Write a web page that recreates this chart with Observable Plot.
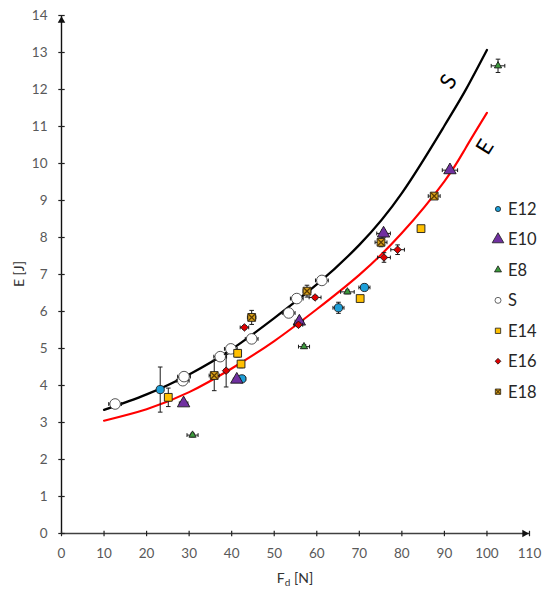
<!DOCTYPE html>
<html><head><meta charset="utf-8">
<script src="https://cdn.jsdelivr.net/npm/d3@7"></script>
<script src="https://cdn.jsdelivr.net/npm/@observablehq/plot@0.6"></script>
<style>
body{margin:0;background:#fff;}
#wrap{position:relative;width:550px;height:597px;font-family:Lato,"Open Sans",sans-serif;}
#wrap svg.overlay{position:absolute;left:0;top:0;pointer-events:none;}
</style></head><body><div id="wrap"></div>
<script>
// ---- axes ----
const xDomain = [0, 110];
const yDomain = [0, 14];
const xTicks = [0,10,20,30,40,50,60,70,80,90,100,110];
const yTicks = [0,1,2,3,4,5,6,7,8,9,10,11,12,13,14];

// ---- fitted curves ----
const curveX = [10,20,30,40,50,60,70,80,90,95,100];
const curveS = [3.34,3.76,4.30,4.98,5.82,6.73,7.80,9.20,11.02,11.99,13.07];
const curveE = [3.05,3.36,3.82,4.46,5.20,6.06,6.99,8.12,9.52,10.42,11.37];
const curveLabels = ["S","E"];
const curveLabelX = [91.0, 99.6];
const curveLabelY = [12.21, 10.44];

// ---- measured series ----
const seriesNames = ["E12","E10","E8","S","E14","E16","E18"];
const e12X = [23.2,42.4,65.1,71.2];
const e12Y = [3.89,4.18,6.10,6.65];
const e12Xe = [0.6,0.9,1.3,1.3];
const e12Ye = [0.61,0.06,0.15,0.05];

const e10X = [28.7,41.2,55.9,75.7,91.3];
const e10Y = [3.52,4.16,5.73,8.11,9.82];
const e10Xe = [1.0,0.8,1.0,1.6,1.8];
const e10Ye = [0.06,0.06,0.06,0.10,0.05];

const e8X = [30.8,57.0,67.2,102.6];
const e8Y = [2.66,5.05,6.53,12.64];
const e8Xe = [1.3,1.3,1.6,1.6];
const e8Ye = [0.05,0.05,0.05,0.18];

const sX = [12.6,28.5,28.8,37.3,39.8,44.7,53.4,55.3,61.2];
const sY = [3.50,4.13,4.24,4.78,4.99,5.26,5.96,6.35,6.84];
const sXe = [1.5,1.5,1.5,1.5,1.5,1.5,1.5,1.5,1.5];
const sYe = [0,0,0,0,0,0,0,0,0];

const e14X = [25.1,41.4,42.2,70.2,84.5];
const e14Y = [3.68,4.87,4.58,6.35,8.24];
const e14Xe = [0.7,0.5,0.5,0,0];
const e14Ye = [0.25,0.10,0.10,0,0];

const e16X = [38.7,43.0,55.7,59.6,75.8,79.0];
const e16Y = [4.40,5.57,5.64,6.38,7.46,7.67];
const e16Xe = [0.5,1.0,1.0,1.4,1.5,1.6];
const e16Ye = [0.44,0.05,0.05,0.05,0.13,0.13];

const e18X = [35.9,44.7,57.7,75.1,87.6];
const e18Y = [4.27,5.84,6.55,7.87,9.12];
const e18Xe = [1.2,1.0,0.9,1.4,1.4];
const e18Ye = [0.41,0.19,0.16,0.12,0.06];

// ---- build tables ----
function rows(name, xs, ys, xe, ye){ return xs.map((x,i)=>({s:name, x, y:ys[i], xe:xe[i], ye:ye[i]})); }
const data = {
  E12: rows("E12", e12X, e12Y, e12Xe, e12Ye),
  E10: rows("E10", e10X, e10Y, e10Xe, e10Ye),
  E8:  rows("E8",  e8X,  e8Y,  e8Xe,  e8Ye),
  S:   rows("S",   sX,   sY,   sXe,   sYe),
  E14: rows("E14", e14X, e14Y, e14Xe, e14Ye),
  E16: rows("E16", e16X, e16Y, e16Xe, e16Ye),
  E18: rows("E18", e18X, e18Y, e18Xe, e18Ye)
};
const sRows = curveX.map((x,i)=>({x, y:curveS[i]}));
const eRows = curveX.map((x,i)=>({x, y:curveE[i]}));
const labelRows = curveLabels.map((t,i)=>({t, x:curveLabelX[i], y:curveLabelY[i]}));

// custom line symbols
const hLine = {draw(ctx,size){const r=Math.sqrt(size/Math.PI); ctx.moveTo(-r,0); ctx.lineTo(r,0);}};
const vLine = {draw(ctx,size){const r=Math.sqrt(size/Math.PI); ctx.moveTo(0,-r); ctx.lineTo(0,r);}};
const diamondSym = d3.symbolDiamond2 || d3.symbolDiamond;

const styles = {
  E12: {symbol:"circle", fill:"#1E9FD8", stroke:"#1a1a1a", r:4.1},
  E10: {symbol:"triangle", fill:"#7030A0", stroke:"#1a1a1a", r:4.6},
  E8:  {symbol:"triangle", fill:"#3C9A3C", stroke:"#1a1a1a", r:2.7},
  S:   {symbol:"circle", fill:"white", stroke:"#404040", r:5.3},
  E14: {symbol:"square", fill:"#FFC000", stroke:"#1a1a1a", r:4.4},
  E16: {symbol:diamondSym, fill:"#E00000", stroke:"#1a1a1a", r:3.4},
  E18: {symbol:"square", fill:"#D9A21B", stroke:"#1a1a1a", r:4.4}
};

function errorMarks(rs){
  const hx = rs.filter(d=>d.xe>0), vy = rs.filter(d=>d.ye>0);
  return [
    Plot.link(hx, {x1:d=>d.x-d.xe, x2:d=>d.x+d.xe, y1:"y", y2:"y", stroke:"#1a1a1a", strokeWidth:1}),
    Plot.dot(hx, {x:d=>d.x-d.xe, y:"y", symbol:vLine, r:1.9, stroke:"#1a1a1a", strokeWidth:1}),
    Plot.dot(hx, {x:d=>d.x+d.xe, y:"y", symbol:vLine, r:1.9, stroke:"#1a1a1a", strokeWidth:1}),
    Plot.link(vy, {x1:"x", x2:"x", y1:d=>d.y-d.ye, y2:d=>d.y+d.ye, stroke:"#1a1a1a", strokeWidth:1}),
    Plot.dot(vy, {x:"x", y:d=>d.y-d.ye, symbol:hLine, r:2.3, stroke:"#1a1a1a", strokeWidth:1}),
    Plot.dot(vy, {x:"x", y:d=>d.y+d.ye, symbol:hLine, r:2.3, stroke:"#1a1a1a", strokeWidth:1})
  ];
}
function seriesMarks(name){
  const st = styles[name], rs = data[name];
  const m = [...errorMarks(rs), Plot.dot(rs, {x:"x", y:"y", symbol:st.symbol, r:st.r, fill:st.fill, stroke:st.stroke, strokeWidth:0.9})];
  if (name === "E18") m.push(Plot.dot(rs, {x:"x", y:"y", symbol:"times", r:3.2, stroke:"#5a3a00", strokeWidth:1.3}));
  return m;
}

const font = "Lato, 'Open Sans', sans-serif";
const plot = Plot.plot({
  width:550, height:597,
  marginLeft:61, marginRight:21, marginTop:15, marginBottom:64,
  x:{domain:xDomain}, y:{domain:yDomain},
  style:{fontFamily:font, background:"white", overflow:"visible"},
  marks:[
    Plot.axisY({ticks:yTicks, tickSize:0, tickPadding:14, fontSize:13.5, color:"#595959", label:null}),
    Plot.axisX({ticks:xTicks, tickSize:0, tickPadding:15, fontSize:13.5, color:"#595959", label:null}),
    Plot.ruleY([yDomain[0]], {x1:xDomain[0], x2:xDomain[1], stroke:"#404040", strokeWidth:1.4}),
    Plot.ruleX([xDomain[0]], {y1:yDomain[0], y2:yDomain[1], stroke:"#111", strokeWidth:1.4}),
    Plot.dot(yTicks, {x:()=>xDomain[0], y:d=>d, symbol:hLine, r:3.2, stroke:"#222", strokeWidth:1.2}),
    Plot.dot(xTicks, {x:d=>d, y:()=>yDomain[0], symbol:vLine, r:2.7, stroke:"#222", strokeWidth:1.2}),
    Plot.dot([yDomain[1]], {x:()=>xDomain[0], y:d=>d, symbol:"triangle", r:2.8, fill:"#111", dy:5}),
    Plot.dot([xDomain[1]], {x:d=>d, y:()=>yDomain[0], symbol:"triangle", r:2.8, fill:"#111", rotate:90, dx:-5}),
    Plot.line(sRows, {x:"x", y:"y", stroke:"black", strokeWidth:2.3, curve:"natural"}),
    Plot.line(eRows, {x:"x", y:"y", stroke:"#FF0000", strokeWidth:2.1, curve:"natural"}),
    Plot.text(labelRows, {x:"x", y:"y", text:"t", rotate:-58, fontSize:22, fill:"black", fontFamily:font}),
    ...seriesNames.flatMap(seriesMarks)
  ]
});
const wrap = document.getElementById("wrap");
wrap.appendChild(plot);

// axis titles
const sx = plot.scale("x"), sy = plot.scale("y");
const svg = d3.select(plot);
svg.append("text").attr("transform", `translate(24,${(sy.apply(yDomain[0])+sy.apply(yDomain[1]))/2}) rotate(-90)`)
  .attr("text-anchor","middle").attr("font-size",14).attr("fill","#333").attr("font-family",font).text("E [J]");
const xt = svg.append("text").attr("x", (sx.apply(xDomain[0])+sx.apply(xDomain[1]))/2).attr("y", 583)
  .attr("text-anchor","middle").attr("font-size",14).attr("fill","#333").attr("font-family",font);
xt.append("tspan").text("F");
xt.append("tspan").attr("font-size",10).attr("dy",3).text("d");
xt.append("tspan").attr("dy",-3).text(" [N]");

// legend overlay
const leg = d3.select(wrap).append("svg").attr("class","overlay").attr("width",550).attr("height",597);
const symMap = {circle:d3.symbolCircle, triangle:d3.symbolTriangle, square:d3.symbolSquare};
const legR = {E12:2.6, E10:4.3, E8:2.6, S:3.0, E14:3.0, E16:2.6, E18:3.0};
seriesNames.forEach((name,i)=>{
  const st = styles[name];
  const y = 209 + i*30.45;
  const type = typeof st.symbol === "string" ? symMap[st.symbol] : st.symbol;
  const r = legR[name];
  leg.append("path").attr("transform",`translate(498,${y})`)
    .attr("d", d3.symbol().type(type).size(Math.PI*r*r)())
    .attr("fill", st.fill).attr("stroke", name==="S" ? "#404040" : "#1a1a1a").attr("stroke-width",0.8);
  if (name === "E18") leg.append("path").attr("transform",`translate(498,${y})`)
    .attr("d", d3.symbol().type(d3.symbolTimes).size(Math.PI*2.4*2.4)()).attr("fill","none").attr("stroke","#5a3a00").attr("stroke-width",1.1);
  leg.append("text").attr("x",508).attr("y",y).attr("dy","0.36em").attr("font-size",16.5)
    .attr("fill","#262626").attr("font-family",font).text(name);
});
</script></body></html>
